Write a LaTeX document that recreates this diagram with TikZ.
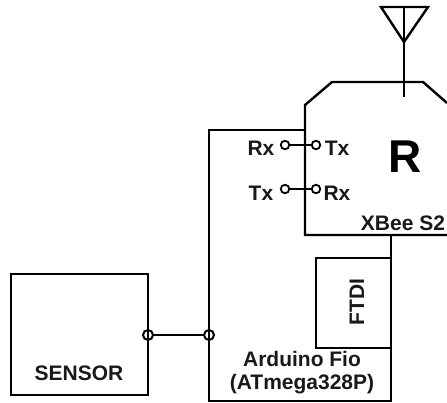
\documentclass[tikz,border=0pt]{standalone}
\usepackage{fontspec}
\setmainfont{Liberation Sans}
\tikzset{
  wire/.style={draw=black,line width=2.4pt,line cap=butt,line join=miter},
  port/.style={circle,draw=black,line width=1.8pt,inner sep=0pt,minimum size=8.5pt,fill=white,outer sep=0pt},
  junction/.style={circle,draw=black,line width=2pt,inner sep=0pt,minimum size=10pt,outer sep=0pt},
  lbl/.style={font=\bfseries\fontsize{21}{23}\selectfont,inner sep=0pt,text=black!90},
  boxnode/.style={draw=black,line width=2.4pt,inner sep=0pt,outer sep=0pt,anchor=north west}
}
\begin{document}
\begin{tikzpicture}[x=1pt,y=-1pt]
\useasboundingbox (0,0) rectangle (447,402);
% coordinates
\coordinate (apL) at (381,7);
\coordinate (apR) at (428,7);
\coordinate (apT) at (404,7);
\coordinate (apB) at (404,42);
\coordinate (stemEnd) at (404,97);
\coordinate (xbA) at (447,235);
\coordinate (xbB) at (305,235);
\coordinate (xbC) at (305,105);
\coordinate (xbD) at (332,82);
\coordinate (xbE) at (423,82);
\coordinate (xbF) at (447,103);
\coordinate (arA) at (305,130);
\coordinate (arB) at (209,130);
\coordinate (arC) at (209,401);
\coordinate (arD) at (391,401);
\coordinate (arE) at (391,235);
% antenna
\draw[wire] (apB) -- (apL) -- (apR) -- cycle;
\draw[wire] (apT) -- (stemEnd);
% XBee outline
\draw[wire] (xbA) -- (xbB) -- (xbC) -- (xbD) -- (xbE) -- (xbF);
% Arduino outline
\draw[wire] (arA) -- (arB) -- (arC) -- (arD) -- (arE);
% FTDI
\node[boxnode,minimum width=75pt,minimum height=90pt] (ftdi) at (316,258) {};
\node[lbl,rotate=90] (ftdilbl) at (357,302) {FTDI};
% Sensor
\node[boxnode,minimum width=137pt,minimum height=121pt] (sensor) at (11,274) {};
\node[lbl] (sensorlbl) at (79,373) {SENSOR};
% Junctions
\node[junction] (j1) at (148,335) {};
\node[junction] (j2) at (209,335) {};
\draw[wire] (j1) -- (j2);
% Ports
\node[port] (p1) at (285,145) {};
\node[port] (p2) at (316,145) {};
\node[port] (p3) at (285,189) {};
\node[port] (p4) at (316,189) {};
\draw[wire] (p1) -- (p2);
\draw[wire] (p3) -- (p4);
% Labels
\node[lbl] (l1) at (261,148) {Rx};
\node[lbl] (l2) at (337,148) {Tx};
\node[lbl] (l3) at (261,193) {Tx};
\node[lbl] (l4) at (337,193) {Rx};
\node[font=\bfseries\fontsize{46}{50}\selectfont,inner sep=0pt] (r) at (405,157) {R};
\node[lbl] (xb) at (403,223) {XBee S2};
\node[lbl,align=center] (ard) at (302,373) {Arduino Fio\\(ATmega328P)};
\end{tikzpicture}
\end{document}
